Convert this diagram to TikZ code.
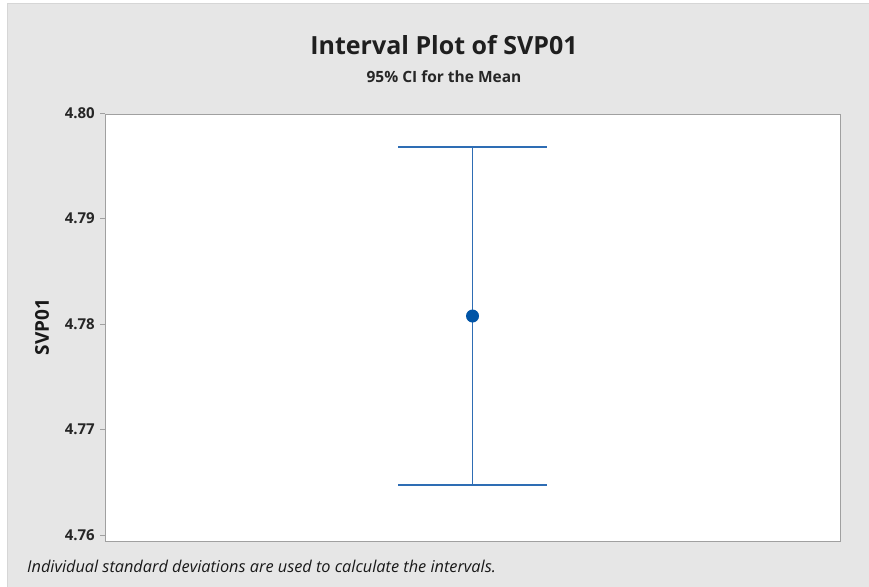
\documentclass[tikz,border=0pt]{standalone}
\usepackage{fontspec}
\setmainfont{Open Sans}
\begin{document}
\begin{tikzpicture}[x=1pt,y=-1pt,
  panel/.style={fill=panelgray,draw=bordergray,line width=1pt},
  frame/.style={fill=white,draw=framegray,line width=0.8pt},
  tickmark/.style={draw=framegray,line width=0.8pt},
  ticklab/.style={anchor=east,font=\fontsize{15}{17}\selectfont\bfseries,text=black!85,inner sep=0pt},
  bar/.style={draw=barblue,line width=1.2pt},
  meandot/.style={circle,fill=dotblue,inner sep=0pt,minimum size=13pt}]
\definecolor{panelgray}{RGB}{230,230,230}
\definecolor{bordergray}{RGB}{214,214,214}
\definecolor{framegray}{RGB}{160,160,160}
\definecolor{barblue}{RGB}{46,109,180}
\definecolor{dotblue}{RGB}{0,84,166}
\useasboundingbox (0,0) rectangle (869,586);
\fill[white] (0,0) rectangle (869,586);
\draw[panel] (7,4) rectangle (872,590);
\draw[frame] (105,114) rectangle (840,541);
% ticks
\foreach \v/\y in {4.80/113,4.79/218.5,4.78/324,4.77/429.5,4.76/535}{
  \draw[tickmark] (100,\y) -- (105,\y);
  \node[ticklab] at (95,\y) {\v};
}
\node[font=\fontsize{25}{28}\selectfont\bfseries,text=black!88] (title) at (444,45) {Interval Plot of SVP01};
\node[font=\fontsize{15.5}{18}\selectfont\bfseries,text=black!85] (sub) at (444,77) {95\% CI for the Mean};
\node[rotate=90,font=\fontsize{19}{21}\selectfont\bfseries,text=black!90] (ylab) at (42,327) {SVP01};
\node[anchor=west,font=\fontsize{16.3}{18}\selectfont\itshape,text=black!90,inner sep=0pt] (note) at (27,566) {Individual standard deviations are used to calculate the intervals.};
% interval
\coordinate (top) at (472.5,147);
\coordinate (bot) at (472.5,485);
\coordinate (tl) at (398,147);
\coordinate (tr) at (547,147);
\coordinate (bl) at (398,485);
\coordinate (br) at (547,485);
\draw[bar] (top) -- (bot);
\draw[bar] (tl) -- (tr);
\draw[bar] (bl) -- (br);
\node[meandot] (mean) at (472.5,316) {};
\end{tikzpicture}
\end{document}
